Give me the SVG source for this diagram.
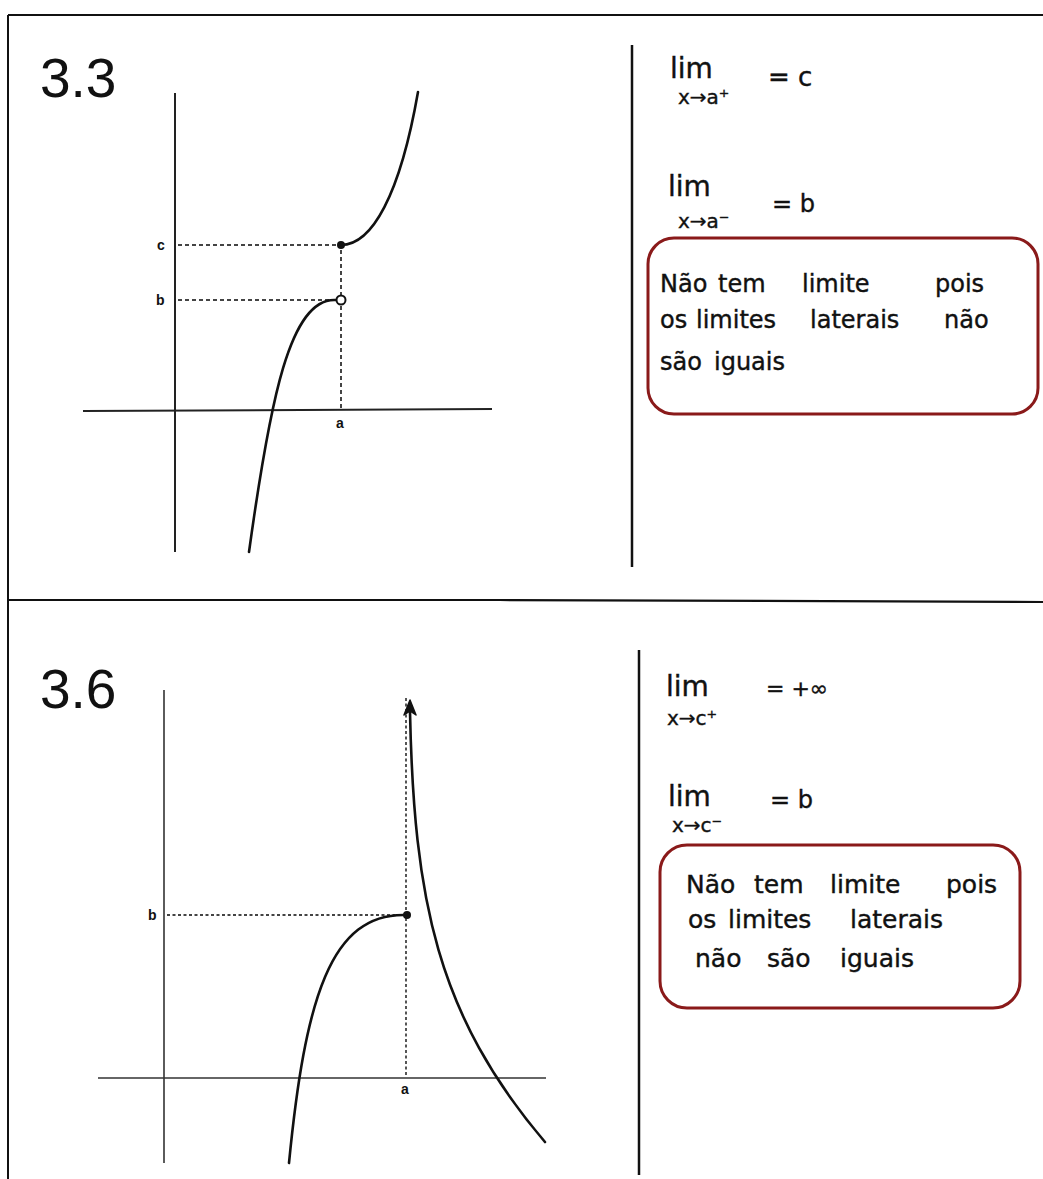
<svg xmlns="http://www.w3.org/2000/svg" width="1043" height="1179" viewBox="0 0 1043 1179">
<style>
.frame{stroke:#111;stroke-width:2;fill:none}
.axis{stroke:#222;stroke-width:2;fill:none}
.axis2{stroke:#333;stroke-width:1.6;fill:none}
.dash{stroke:#444;stroke-width:2;stroke-dasharray:4 3;fill:none}
.dot{stroke:#444;stroke-width:1.8;stroke-dasharray:3 2.5;fill:none}
.curve{stroke:#111;stroke-width:2.6;fill:none;stroke-linecap:round}
.num{font-family:"Liberation Sans",Arial,sans-serif;font-size:55px;fill:#111}
.lbl{font-family:"Liberation Sans",Arial,sans-serif;font-size:14px;font-weight:bold;fill:#111}
.hw{font-family:"DejaVu Sans",sans-serif;fill:#111;stroke:#111;stroke-width:0.4}
.box{stroke:#8a1a1a;stroke-width:3;fill:none}
</style>
<rect width="1043" height="1179" fill="#fff"/>
<g id="frame">
<path class="frame" d="M8,15 H1043 M8,15 V1179"/>
<path d="M8,600 L500,600 L1043,602" stroke="#111" stroke-width="2.2" fill="none"/>
<path d="M632,45 V567" stroke="#111" stroke-width="2.5"/>
<path d="M639,650 V1175" stroke="#111" stroke-width="2.5"/>
</g>
<g id="graph-3-3">
<text class="num" x="40" y="97">3.3</text>
<path class="axis" d="M175,93 V552"/>
<path class="axis" d="M83,411 L492,409"/>
<path class="dash" d="M178,245 H338"/>
<path class="dash" d="M178,300 H335"/>
<path class="dash" d="M341,250 V408"/>
<text class="lbl" x="157" y="250">c</text>
<text class="lbl" x="156" y="305">b</text>
<text class="lbl" x="336" y="428">a</text>
<path class="curve" d="M341,245 C372,245 400,195 418,92"/>
<path class="curve" d="M336,300 C290,297 270,400 249,552"/>
<circle cx="341" cy="245" r="4" fill="#111"/>
<circle cx="341" cy="300" r="4.5" fill="#fff" stroke="#111" stroke-width="2"/>
</g>
<g id="notes-3-3">
<text class="hw" x="670" y="78" font-size="28">lim</text>
<text class="hw" x="678" y="104" font-size="20">x→a⁺</text>
<text class="hw" x="768" y="86" font-size="26">= c</text>
<text class="hw" x="668" y="196" font-size="28">lim</text>
<text class="hw" x="678" y="228" font-size="20">x→a⁻</text>
<text class="hw" x="772" y="212" font-size="24">= b</text>
<rect class="box" x="648" y="238" width="390" height="176" rx="26"/>
<text class="hw" y="292" font-size="24"><tspan x="660">Não </tspan><tspan x="718">tem </tspan><tspan x="802">limite </tspan><tspan x="935">pois</tspan></text>
<text class="hw" y="328" font-size="24"><tspan x="660">os </tspan><tspan x="696">limites </tspan><tspan x="810">laterais </tspan><tspan x="944">não</tspan></text>
<text class="hw" y="370" font-size="24"><tspan x="660">são </tspan><tspan x="714">iguais</tspan></text>
</g>
<g id="graph-3-6">
<text class="num" x="40" y="708">3.6</text>
<path class="axis2" d="M164,690 V1163"/>
<path class="axis2" d="M98,1078 H546"/>
<path class="dot" d="M167,915 H403"/>
<path class="dot" d="M406,698 V1076"/>
<text class="lbl" x="148" y="920">b</text>
<text class="lbl" x="401" y="1094">a</text>
<path class="curve" d="M407,915 C330,912 305,1000 289,1163"/>
<path class="curve" d="M410,712 C414,900 437,1015 545,1142"/>
<path d="M410,700 L416,715 L410,711 L404,715 Z" fill="#111" stroke="#111" stroke-width="1.5" stroke-linejoin="round"/>
<circle cx="407" cy="915" r="4" fill="#111"/>
</g>
<g id="notes-3-6">
<text class="hw" x="666" y="696" font-size="28">lim</text>
<text class="hw" x="667" y="725" font-size="20">x→c⁺</text>
<text class="hw" x="766" y="696" font-size="22">= +∞</text>
<text class="hw" x="668" y="806" font-size="28">lim</text>
<text class="hw" x="672" y="832" font-size="20">x→c⁻</text>
<text class="hw" x="770" y="808" font-size="24">= b</text>
<rect class="box" x="660" y="845" width="360" height="163" rx="27"/>
<text class="hw" y="893" font-size="25"><tspan x="686">Não </tspan><tspan x="754">tem </tspan><tspan x="830">limite </tspan><tspan x="946">pois</tspan></text>
<text class="hw" y="928" font-size="25"><tspan x="688">os </tspan><tspan x="728">limites </tspan><tspan x="850">laterais</tspan></text>
<text class="hw" y="967" font-size="25"><tspan x="695">não </tspan><tspan x="767">são </tspan><tspan x="840">iguais</tspan></text>
</g>
</svg>
